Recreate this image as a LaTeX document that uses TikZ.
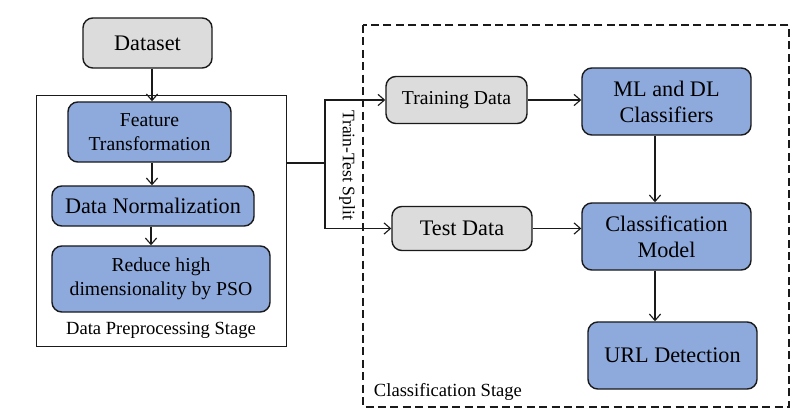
\documentclass[tikz,border=0pt]{standalone}
\usepackage{fontspec}
\setmainfont{Liberation Serif}
\usepackage{xcolor}
\usepackage{tikz}
\usetikzlibrary{arrows.meta}
\definecolor{boxblue}{HTML}{8EA9DB}
\definecolor{boxgray}{HTML}{DCDCDC}
\definecolor{edge}{HTML}{1A1A1A}
\tikzset{
  grayBox/.style={rounded corners=7pt, fill=boxgray, draw=edge, line width=1pt, align=center, inner sep=2pt},
  blueBox/.style={rounded corners=7pt, fill=boxblue, draw=edge, line width=1pt, align=center, inner sep=2pt},
  big/.style={font=\fontsize{15.8}{18.5}\selectfont},
  mid/.style={font=\fontsize{14}{17}\selectfont},
  lab/.style={font=\fontsize{13.2}{15}\selectfont},
  arr/.style={-{Straight Barb[length=1.6mm, width=2.8mm]}, line width=0.8pt, draw=edge}
}

\begin{document}
\begin{tikzpicture}[x=0.025cm, y=-0.025cm]
    \useasboundingbox[fill=white] (0,0) rectangle (806,419);

    % Preprocessing stage
    \node[grayBox, big, minimum width=3.225cm, minimum height=1.25cm] (data) at (147.5,43) {Dataset};
    \draw[edge, line width=0.6pt] (36,95) rectangle (286,346);
    \node[blueBox, mid, minimum width=4.075cm, minimum height=1.5cm] (feat) at (149.5,132) {Feature\\Transformation};
    \node[blueBox, big, minimum width=5.05cm, minimum height=1cm] (norm) at (153,206) {Data Normalization};
    \node[blueBox, mid, minimum width=5.45cm, minimum height=1.65cm] (pso) at (161,279) {Reduce high\\dimensionality by PSO};
    \node[lab] (preplab) at (161,330) {Data Preprocessing Stage};
    \draw[arr] (data.south -| 152,0) -- (feat.north -| 152,0);
    \draw[arr] (feat.south -| 152,0) -- (norm.north -| 152,0);
    \draw[arr] (norm.south -| 151,0) -- (pso.north -| 151,0);

    % Split
    \coordinate (split) at (325,163);
    \draw[edge, line width=0.8pt] (286,163) -- (split);
    \node[font=\fontsize{12.5}{14}\selectfont, rotate=-90] (splitlab) at (347,165) {Train-Test Split};

    % Classification stage
    \draw[edge, line width=0.8pt, dash pattern=on 2mm off 1.1mm] (363,25) rectangle (789,407);
    \node[grayBox, mid, minimum width=3.525cm, minimum height=1.175cm] (train) at (456.5,100) {Training Data};
    \node[grayBox, big, minimum width=3.5cm, minimum height=1.1cm] (test) at (462,228.5) {Test Data};
    \node[blueBox, big, minimum width=4.225cm, minimum height=1.675cm] (mldl) at (666.5,101.5) {ML and DL\\Classifiers};
    \node[blueBox, big, minimum width=4.225cm, minimum height=1.675cm] (model) at (666.5,236.5) {Classification\\Model};
    \node[blueBox, big, minimum width=4.225cm, minimum height=1.675cm] (url) at (672.5,355.5) {URL Detection};
    \node[lab, anchor=west] (clslab) at (369,392) {Classification Stage};
    \draw[arr] (split) |- (train.west);
    \draw[arr] (split) |- (test.west);
    \draw[arr] (train.east) -- (mldl.west |- train.east);
    \draw[arr] (test.east) -- (model.west |- test.east);
    \draw[arr] (mldl.south -| 655,0) -- (model.north -| 655,0);
    \draw[arr] (model.south -| 655,0) -- (url.north -| 655,0);
\end{tikzpicture}
\end{document}
